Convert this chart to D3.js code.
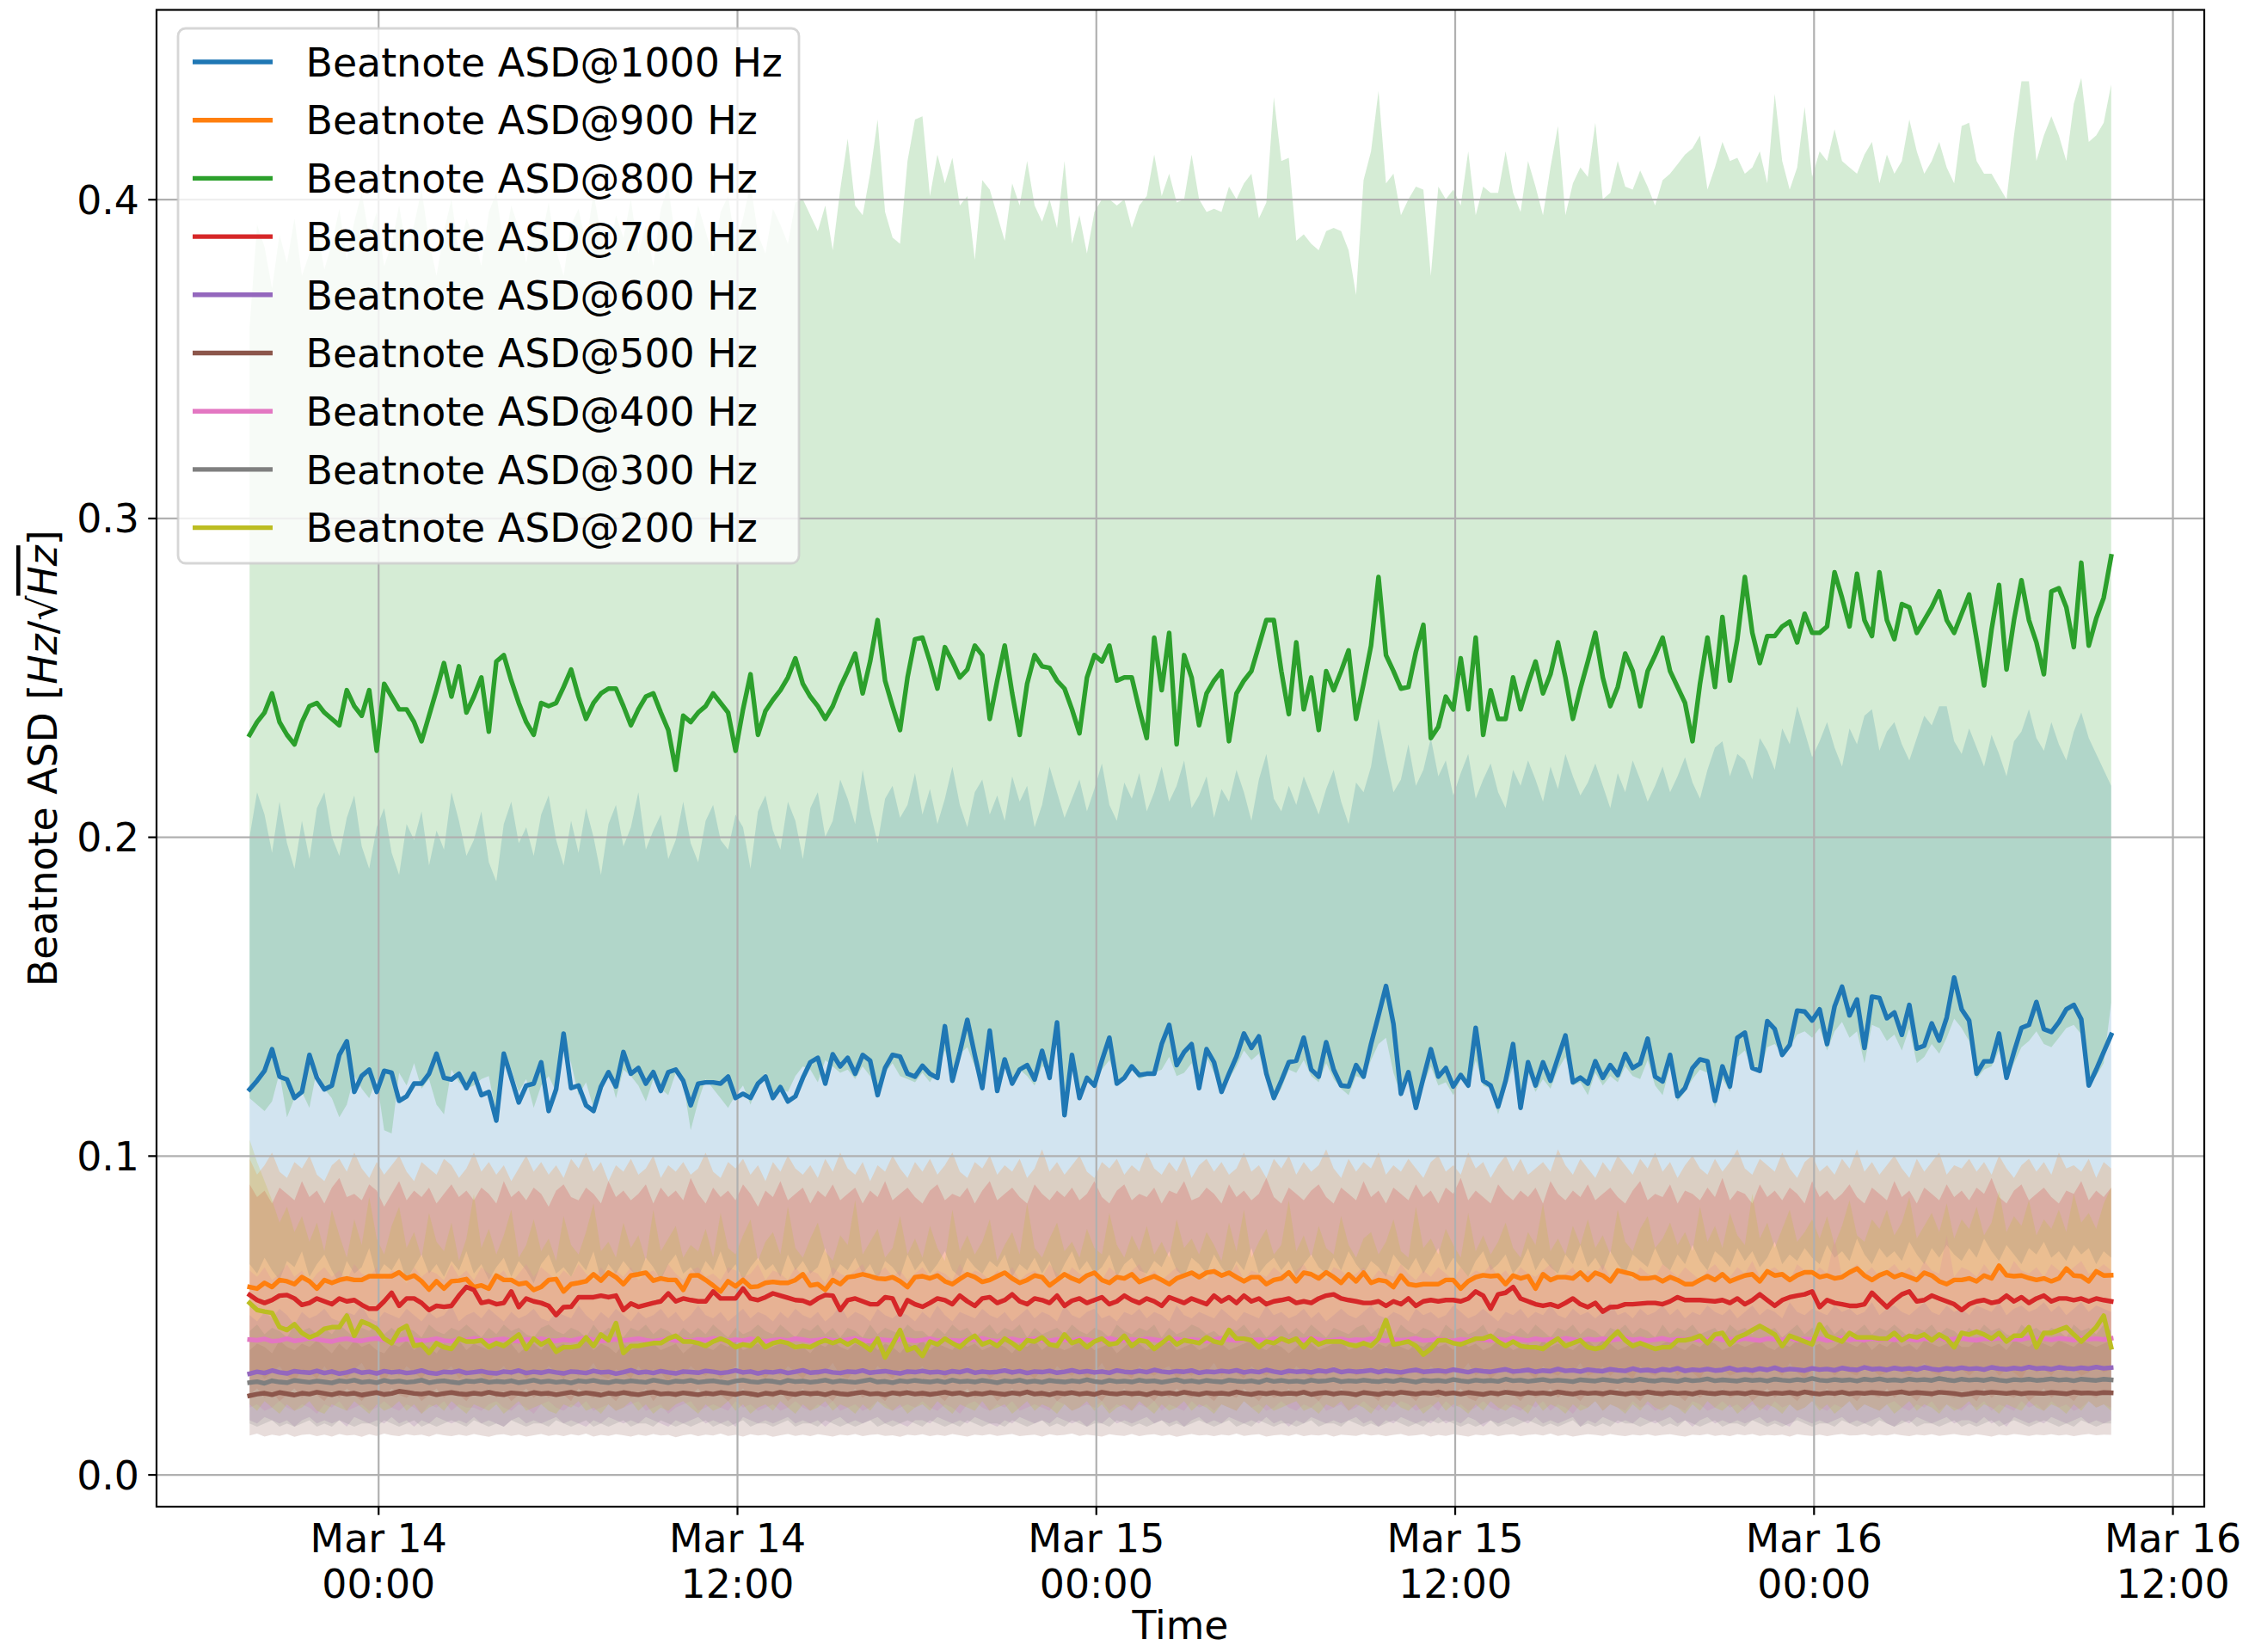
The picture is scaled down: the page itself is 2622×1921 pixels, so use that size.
<!DOCTYPE html>
<html><head><meta charset="utf-8">
<script src="https://cdn.jsdelivr.net/npm/d3@7"></script>
<style>body{margin:0;background:#fff}svg{display:block}</style>
</head><body><svg id="chart" width="2622" height="1921"></svg>
<script>
// ---------- DATA ----------
const START_UTC = Date.UTC(2021, 2, 13, 19, 42); // first sample, Mar 13 19:42
const STEP_MIN = 15;                              // sampling interval (minutes)

const seriesLabels = ["Beatnote ASD@1000 Hz","Beatnote ASD@900 Hz","Beatnote ASD@800 Hz","Beatnote ASD@700 Hz","Beatnote ASD@600 Hz","Beatnote ASD@500 Hz","Beatnote ASD@400 Hz","Beatnote ASD@300 Hz","Beatnote ASD@200 Hz"];
const seriesColors = ["#1f77b4","#ff7f0e","#2ca02c","#d62728","#9467bd","#8c564b","#e377c2","#7f7f7f","#bcbd22"];
const yTicks = [0, 0.1, 0.2, 0.3, 0.4];
const xTickTimes = [Date.UTC(2021,2,14,0),Date.UTC(2021,2,14,12),Date.UTC(2021,2,15,0),Date.UTC(2021,2,15,12),Date.UTC(2021,2,16,0),Date.UTC(2021,2,16,12)];
const xTickLabels = [["Mar 14","00:00"],["Mar 14","12:00"],["Mar 15","00:00"],["Mar 15","12:00"],["Mar 16","00:00"],["Mar 16","12:00"]];

// 1000 Hz
const asd1000 = [.1208,.1235,.1266,.1334,.1248,.1239,.1181,.120,.1316,.1244,
.1208,.122,.1316,.1359,.120,.125,.127,.120,.1266,.126,
.1172,.1186,.1226,.1226,.1257,.132,.1244,.1239,.1257,.1212,
.1257,.119,.120,.111,.132,.1244,.1167,.122,.1226,.1293,
.114,.1208,.1383,.1212,.122,.1158,.114,.1217,.1262,.1217,
.1325,.1257,.1275,.1226,.1262,.1203,.1262,.127,.1235,.1158,
.1226,.123,.123,.1226,.1248,.1181,.1194,.1181,.1226,.1248,
.1181,.1215,.117,.1186,.1244,.1293,.1307,.1226,.1318,.128,
.1307,.1257,.1316,.1298,.119,.1275,.1316,.1311,.1257,.1248,
.1282,.1257,.1244,.1406,.1235,.1325,.1426,.1316,.1212,.1392,
.1203,.1302,.1226,.127,.1284,.1239,.1329,.1244,.1418,.1127,
.1316,.1181,.1244,.122,.1298,.137,.1226,.1244,.128,.1253,
.1257,.1257,.135,.141,.1284,.1325,.135,.1212,.1334,.1293,
.120,.1257,.1311,.1383,.1338,.1374,.1257,.1181,.1235,.1293,
.1298,.137,.127,.1248,.1356,.127,.122,.1217,.1284,.1248,
.135,.144,.1532,.1413,.1194,.1262,.115,.1244,.1334,.1248,
.1275,.1217,.1253,.122,.1401,.1235,.122,.1154,.1235,.135,
.115,.1293,.122,.1293,.1235,.1307,.1377,.123,.1245,.1226,
.1296,.1244,.1284,.1253,.1319,.1275,.1289,.1367,.1248,.1233,
.1316,.1186,.1212,.1275,.1302,.1296,.1172,.128,.1217,.137,
.1386,.1275,.1266,.1422,.1397,.1316,.1347,.1455,.1452,.1424,
.1459,.135,.1468,.153,.144,.149,.1338,.1499,.1495,.1431,
.1449,.1379,.1473,.1336,.1345,.1415,.1361,.1433,.1559,.1459,
.1424,.1257,.1296,.1296,.1383,.1244,.1325,.1401,.141,.1482,
.1397,.1388,.1419,.1459,.1473,.1428,.122,.127,.1325,.1379];
const lo1000 = [.066,.063,.068,.064,.061,.067,.065,.070,.062,.066,
.069,.064,.060,.067,.063,.065,.071,.062,.066,.064,
.068,.061,.065,.069,.063,.066,.062,.067,.064,.070,
.063,.066,.061,.065,.068,.062,.067,.064,.060,.066,
.069,.063,.065,.062,.067,.064,.070,.061,.066,.063,
.067,.064,.062,.068,.065,.061,.066,.069,.063,.065,
.062,.067,.064,.070,.063,.066,.061,.065,.068,.064,
.066,.062,.069,.064,.067,.063,.065,.071,.062,.066,
.064,.068,.063,.066,.061,.067,.065,.062,.069,.064,
.067,.063,.066,.070,.064,.062,.068,.065,.063,.067,
.065,.069,.062,.066,.064,.068,.063,.067,.061,.066,
.070,.064,.067,.063,.065,.069,.062,.066,.068,.064,
.063,.067,.065,.070,.064,.062,.068,.066,.063,.069,
.065,.062,.067,.064,.071,.063,.066,.068,.064,.067,
.062,.066,.069,.065,.063,.068,.064,.070,.066,.063,
.067,.065,.062,.069,.066,.064,.068,.063,.067,.071,
.064,.068,.065,.062,.067,.070,.064,.066,.069,.063,
.066,.071,.064,.068,.065,.063,.069,.066,.072,.065,
.068,.064,.070,.066,.063,.069,.067,.065,.071,.066,
.064,.069,.066,.072,.067,.064,.070,.068,.065,.071,
.067,.070,.065,.068,.073,.066,.069,.067,.071,.068,
.066,.072,.068,.070,.067,.074,.069,.066,.071,.068,
.070,.067,.073,.069,.066,.071,.068,.072,.069,.067,
.071,.068,.074,.070,.067,.072,.069,.066,.071,.069,
.073,.068,.070,.067,.072,.069,.071,.066,.070,.068];
const hi1000 = [.200,.214,.207,.195,.211,.198,.190,.205,.193,.209,
.214,.200,.194,.206,.213,.197,.190,.203,.209,.195,
.188,.204,.199,.208,.191,.202,.196,.214,.205,.194,
.199,.208,.192,.186,.204,.211,.198,.203,.194,.207,
.213,.199,.191,.205,.195,.209,.200,.188,.204,.210,
.197,.203,.214,.196,.202,.207,.193,.199,.211,.198,
.192,.205,.210,.199,.196,.207,.203,.190,.208,.213,
.202,.196,.211,.205,.193,.209,.214,.200,.205,.218,
.212,.204,.221,.208,.198,.212,.216,.206,.210,.220,
.207,.215,.204,.212,.222,.210,.203,.214,.218,.207,
.213,.205,.219,.211,.216,.203,.210,.222,.214,.206,
.212,.218,.208,.215,.223,.210,.205,.217,.212,.220,
.208,.214,.222,.211,.216,.224,.209,.213,.219,.206,
.215,.211,.221,.214,.205,.218,.226,.212,.208,.216,
.210,.219,.213,.207,.215,.221,.211,.204,.217,.214,
.222,.237,.225,.214,.218,.229,.216,.221,.231,.219,
.224,.213,.220,.226,.212,.218,.223,.214,.209,.221,
.216,.224,.218,.211,.222,.215,.226,.219,.213,.217,
.223,.216,.209,.220,.214,.224,.218,.211,.216,.222,
.214,.219,.225,.217,.212,.221,.228,.230,.219,.226,
.224,.218,.231,.227,.221,.234,.229,.241,.233,.225,
.230,.236,.228,.222,.234,.229,.238,.240,.227,.233,
.236,.229,.224,.231,.238,.235,.241,.241,.230,.226,
.234,.228,.222,.232,.226,.219,.230,.233,.240,.231,
.227,.236,.229,.224,.233,.239,.231,.226,.221,.216];

// 900 Hz
const asd900 = [.0588,.0583,.0601,.0588,.0610,.0606,.0597,.0619,.0606,.0583,
.0610,.0601,.0610,.0615,.0610,.0610,.0622,.0622,.0622,.0622,
.0634,.0615,.0624,.0606,.0580,.0606,.0583,.0606,.0608,.0613,
.0588,.0593,.0583,.0624,.0610,.0610,.0597,.0601,.0579,.0588,
.0610,.0613,.0574,.0597,.0601,.0606,.0628,.0608,.0633,.0619,
.0597,.0624,.0628,.0633,.0608,.0615,.0610,.0610,.0579,.0624,
.0625,.0610,.0593,.0574,.0606,.0590,.0610,.0588,.0590,.0601,
.0604,.0601,.0601,.0610,.0628,.0593,.0597,.0579,.0610,.0597,
.0619,.0622,.0628,.0622,.0615,.0613,.0619,.0606,.0588,.0619,
.0622,
.0615,.0624,.0606,.0597,.0613,.0628,.0619,.0604,.0610,.0622,
.0633,.0615,.0601,.0610,.0624,.0619,.0593,.0610,.0628,.0615,
.0606,.0624,.0633,.0610,.0601,.0619,.0615,.0628,.0604,.0613,
.0622,.0610,.0597,.0615,.0624,.0633,.0619,
.0633,.0637,.0624,.0633,.0619,.0606,.0619,.0619,.0597,.0610,
.0615,.0634,.0606,.0633,.0628,.0615,.0634,.0619,.0601,.0628,
.0606,.0633,.0601,.0610,.0606,.0588,.0624,.0597,.0593,.0597,
.0597,.0597,.0610,.0610,.0583,.0606,.0619,.0625,.0622,.0624,
.0597,.0624,.0615,.0622,.0583,.0628,.0610,.0619,.0619,.0615,
.0633,.0610,.0633,.0624,.0606,.0640,.0634,.0628,.0615,.0615,
.0619,.0606,.0619,.0610,.0597,.0597,.0610,.0622,.0610,.0628,
.0606,.0615,.0624,.0628,.0606,.0637,.0624,.0628,.0610,.0625,
.0634,.0634,.0619,.0624,.0615,.0619,.0634,.0646,.0624,.0610,
.0625,.0634,.0619,.0628,.0619,.0610,.0633,.0624,.0606,.0597,
.0610,.0610,.0615,.0606,.0624,.0615,.0655,.0625,.0622,.0624,
.0616,.0610,.0615,.0606,.0615,.0646,.0624,.0622,.0606,.0637,
.0624,.0625];
const lo900 = [.031,.033,.030,.032,.034,.031,.029,.033,.032,.030,
.034,.031,.032,.030,.033,.035,.031,.032,.029,.033,
.031,.034,.032,.030,.033,.031,.032,.034,.030,.032,
.033,.031,.029,.032,.034,.031,.033,.030,.032,.031,
.034,.032,.030,.033,.031,.032,.035,.031,.030,.033,
.032,.030,.034,.031,.033,.032,.029,.033,.031,.034,
.032,.031,.033,.030,.032,.034,.031,.033,.032,.030,
.033,.031,.034,.032,.030,.033,.031,.032,.035,.031,
.030,.033,.032,.031,.034,.032,.030,.033,.031,.032,
.034,.031,.033,.030,.032,.031,.034,.032,.033,.030,
.032,.034,.031,.033,.032,.030,.033,.031,.034,.032,
.031,.033,.030,.032,.035,.031,.033,.032,.030,.034,
.032,.031,.033,.034,.030,.032,.031,.033,.032,.035,
.031,.033,.032,.030,.034,.032,.031,.033,.032,.031,
.034,.032,.030,.033,.031,.034,.032,.033,.031,.032,
.033,.031,.034,.032,.030,.033,.032,.031,.034,.032,
.031,.033,.032,.035,.031,.033,.030,.032,.034,.031,
.033,.032,.030,.034,.032,.031,.033,.032,.035,.031,
.032,.034,.031,.033,.032,.030,.034,.032,.031,.033,
.034,.031,.033,.032,.030,.034,.032,.033,.031,.032,
.033,.031,.034,.032,.033,.031,.035,.032,.030,.033,
.032,.034,.031,.033,.032,.031,.034,.033,.031,.032,
.034,.032,.031,.033,.035,.032,.031,.034,.032,.033,
.031,.033,.032,.034,.031,.033,.032,.030,.034,.032,
.033,.031,.034,.032,.033,.031,.032,.034,.032,.033];
const hi900 = [.099,.094,.097,.101,.095,.093,.098,.096,.100,.094,
.092,.097,.099,.095,.101,.096,.093,.098,.094,.097,
.100,.095,.092,.098,.096,.094,.099,.097,.093,.096,
.101,.095,.098,.094,.097,.092,.096,.100,.095,.098,
.094,.097,.093,.099,.096,.101,.095,.098,.092,.097,
.095,.099,.094,.096,.100,.093,.097,.095,.098,.094,
.096,.101,.095,.093,.098,.096,.099,.094,.097,.092,
.098,.095,.100,.096,.094,.097,.093,.099,.095,.101,
.096,.094,.098,.092,.097,.095,.100,.096,.093,.098,
.095,.099,.094,.097,.101,.095,.093,.098,.096,.100,
.094,.097,.095,.099,.093,.096,.102,.095,.098,.094,
.097,.100,.095,.093,.098,.096,.099,.094,.097,.095,
.101,.096,.094,.098,.095,.100,.093,.097,.099,.095,
.098,.094,.096,.101,.095,.097,.093,.099,.096,.100,
.094,.098,.095,.097,.102,.096,.093,.099,.095,.098,
.096,.101,.094,.097,.095,.099,.096,.093,.098,.100,
.095,.097,.094,.101,.096,.098,.093,.097,.100,.095,
.099,.094,.096,.098,.095,.102,.097,.094,.099,.096,
.093,.098,.095,.100,.097,.094,.099,.096,.101,.095,
.098,.093,.097,.100,.096,.094,.099,.095,.098,.102,
.096,.094,.099,.097,.095,.101,.096,.093,.098,.100,
.095,.097,.094,.099,.096,.102,.095,.098,.094,.097,
.100,.096,.093,.099,.095,.098,.101,.094,.097,.096,
.099,.095,.098,.094,.100,.096,.093,.097,.099,.095,
.098,.094,.101,.096,.097,.095,.099,.093,.098,.096];

// 800 Hz
const asd800 = [.232,.236,.239,.245,.236,.232,.229,.236,.241,.242,
.239,.237,.235,.246,.241,.238,.246,.227,.248,.244,
.240,.240,.236,.230,.238,.246,.2545,.244,.2535,.239,
.244,.250,.233,.255,.257,.249,.242,.236,.232,.242,
.241,.242,.247,.2525,.244,.237,.242,.245,.2465,.2465,
.241,.235,.240,.244,.245,.239,.2335,.221,.238,.236,
.239,.241,.245,.242,.239,.227,.240,.251,.232,.2395,
.243,.246,.250,.256,.248,.244,.241,.237,.241,.247,
.252,.2575,.245,.255,.268,.249,.241,.2335,.250,.262,
.2625,.255,.2465,.2595,.255,.250,.2525,.260,.257,.237,
.249,.260,.245,.232,.248,.257,.2535,.253,.249,.2465,
.240,.2325,.250,.257,.255,.260,.249,.250,.250,.240,
.231,.2625,.246,.264,.229,.257,.250,.235,.245,.249,
.252,.230,.245,.249,.252,.260,.268,.268,.252,.2385,
.261,.240,.250,.2335,.252,.246,.252,.2585,.237,.248,
.260,.2815,.257,.252,.2465,.247,.258,.2665,.231,.2345,
.244,.240,.256,.240,.2625,.232,.246,.237,.237,.250,
.240,.248,.255,.245,.251,.261,.250,.237,.2465,.255,
.264,.250,.241,.247,.2575,.252,.241,.252,.257,.2625,
.252,.247,.242,.230,.248,.2625,.247,.269,.249,.262,
.2815,.264,.2545,.263,.263,.266,.2675,.261,.270,.264,
.264,.266,.283,.275,.266,.2825,.268,.263,.283,.268,
.262,.273,.272,.264,.268,.272,.277,.268,.264,.270,
.276,.262,.2475,.265,.279,.2525,.268,.2805,.268,.261,
.251,.277,.278,.272,.2595,.286,.260,.2685,.275,.288];
const lo800 = [.118,.116,.114,.117,.126,.112,.118,.120,.115,.127,
.121,.118,.112,.116,.125,.121,.118,.124,.108,.107,
.126,.122,.129,.121,.124,.116,.113,.127,.123,.121,
.122,.124,.125,.113,.133,.127,.120,.124,.115,.122,
.125,.120,.137,.129,.119,.123,.115,.121,.127,.118,
.127,.125,.122,.117,.124,.121,.119,.126,.123,.108,
.117,.124,.121,.118,.115,.119,.122,.116,.123,.126,
.117,.121,.120,.125,.128,.127,.123,.130,.128,.126,
.127,.124,.128,.125,.119,.126,.129,.125,.124,.123,
.126,.123,.127,.133,.124,.132,.134,.128,.122,.133,
.121,.128,.124,.127,.125,.122,.128,.127,.136,.114,
.128,.120,.125,.122,.127,.130,.123,.125,.127,.124,
.125,.126,.127,.131,.125,.126,.129,.121,.131,.126,
.122,.124,.128,.133,.130,.132,.124,.117,.121,.127,
.126,.130,.125,.123,.129,.124,.121,.119,.125,.124,
.130,.135,.137,.126,.119,.125,.116,.122,.128,.122,
.123,.119,.124,.121,.130,.122,.121,.113,.121,.128,
.116,.126,.120,.124,.121,.127,.131,.122,.123,.119,
.126,.122,.125,.123,.128,.125,.124,.130,.122,.119,
.128,.117,.120,.124,.127,.126,.115,.124,.120,.131,
.133,.127,.126,.134,.135,.132,.134,.138,.139,.137,
.140,.133,.139,.142,.137,.139,.129,.141,.140,.136,
.138,.133,.140,.129,.131,.135,.132,.137,.143,.140,
.136,.124,.127,.128,.133,.124,.129,.134,.136,.139,
.135,.134,.137,.140,.141,.138,.122,.125,.129,.148];
const hi800 = [.360,.392,.385,.372,.389,.380,.394,.376,.383,.391,
.378,.386,.397,.381,.393,.402,.388,.396,.379,.386,
.398,.384,.392,.403,.387,.376,.390,.400,.383,.394,
.388,.379,.396,.402,.385,.398,.391,.380,.393,.387,
.399,.384,.376,.392,.397,.386,.402,.389,.381,.395,
.388,.400,.383,.392,.379,.397,.404,.387,.393,.385,
.398,.390,.382,.396,.401,.386,.394,.405,.389,.383,
.397,.392,.386,.399,.400,.395,.390,.398,.384,.403,
.419,.398,.395,.408,.425,.396,.388,.386,.412,.425,
.426,.401,.414,.405,.413,.398,.401,.381,.406,.403,
.395,.387,.405,.398,.412,.398,.393,.400,.391,.412,
.386,.395,.383,.396,.400,.400,.398,.400,.391,.398,
.401,.414,.401,.408,.399,.400,.414,.400,.396,.397,
.396,.404,.400,.405,.408,.394,.399,.432,.412,.413,
.387,.389,.386,.384,.390,.391,.390,.384,.370,.406,
.415,.434,.405,.408,.395,.400,.404,.403,.376,.404,
.400,.403,.398,.415,.395,.404,.402,.402,.415,.402,
.396,.412,.404,.395,.410,.423,.395,.405,.410,.407,
.424,.400,.402,.412,.404,.403,.409,.404,.398,.406,
.408,.411,.414,.416,.420,.403,.410,.418,.412,.413,
.408,.410,.415,.405,.433,.412,.403,.410,.429,.407,
.415,.412,.422,.412,.410,.408,.414,.418,.405,.414,
.408,.412,.425,.415,.408,.412,.418,.410,.405,.423,
.424,.412,.408,.408,.404,.400,.420,.437,.437,.412,
.420,.426,.420,.412,.430,.438,.418,.420,.424,.436];

// 700 Hz
const asd700 = [.0563,.0547,.0538,.0547,.0561,.0563,.0552,.0532,.0538,.0552,
.0543,.0534,.0552,.0543,.0547,.0532,.0520,.0520,.0543,.0570,
.0529,.0552,.0552,.0538,.0516,.0529,.0526,.0529,.0561,.0588,
.0579,.0538,.0543,.0534,.0538,.0574,.0525,.0552,.0543,.0538,
.0529,.0500,.0525,.0526,.0556,.0556,.0556,.0561,.0556,.0561,
.0516,.0536,.0526,.0532,.0538,.0543,.0568,.0543,.0552,.0547,
.0543,.0543,.0574,.0552,.0552,.0552,.0583,.0552,.0547,.0556,
.0568,.0561,.0554,.0547,.0545,.0536,.0552,.0563,.0561,.0516,
.0547,.0552,.0543,.0534,.0534,.0556,.0552,.0502,.0547,.0534,
.0526,
.0538,.0552,.0547,.0534,.0561,.0543,.0529,.0552,.0556,.0538,
.0547,.0565,.0543,.0534,.0552,.0547,.0538,.0561,.0529,.0545,
.0552,.0538,.0547,.0556,.0534,.0543,.0561,.0547,.0538,.0552,
.0543,.0529,.0556,.0547,.0538,.0552,.0543,
.0534,.0561,.0543,.0556,.0538,.0561,.0543,.0552,.0534,.0543,
.0547,.0552,.0538,.0543,.0538,.0552,.0561,.0565,.0552,.0547,
.0543,.0538,.0538,.0543,.0529,.0543,.0534,.0552,.0529,.0543,
.0547,.0543,.0547,.0547,.0543,.0552,.0574,.0561,.0520,.0565,
.0570,.0588,.0552,.0543,.0534,.0529,.0534,.0526,.0538,.0552,
.0534,.0525,.0538,.0511,.0525,.0526,.0534,.0534,.0536,.0538,
.0538,.0534,.0543,.0556,.0547,.0547,.0547,.0545,.0543,.0547,
.0538,.0552,.0534,.0547,.0565,.0547,.0529,.0547,.0556,.0561,
.0565,.0574,.0525,.0547,.0538,.0534,.0529,.0529,.0534,.0570,
.0547,.0525,.0547,.0565,.0574,.0543,.0547,.0561,.0552,.0543,
.0534,.0516,.0534,.0543,.0547,.0538,.0543,.0561,.0543,.0556,
.0538,.0552,.0561,.0543,.0552,.0552,.0547,.0552,.0543,.0552,
.0547,.0543];
const lo700 = [.025,.027,.024,.026,.023,.025,.027,.024,.026,.025,
.023,.026,.024,.027,.025,.023,.026,.025,.024,.027,
.025,.024,.026,.023,.025,.027,.024,.026,.025,.023,
.026,.025,.027,.024,.026,.023,.025,.027,.024,.026,
.024,.026,.025,.023,.027,.025,.024,.026,.025,.023,
.026,.024,.025,.027,.023,.026,.025,.024,.026,.025,
.027,.024,.026,.025,.023,.025,.027,.024,.026,.025,
.024,.026,.023,.025,.027,.024,.026,.025,.023,.026,
.025,.027,.024,.026,.025,.023,.026,.024,.027,.025,
.024,.026,.025,.023,.026,.025,.027,.024,.025,.026,
.023,.025,.027,.024,.026,.025,.024,.026,.023,.025,
.027,.024,.026,.025,.023,.026,.025,.027,.024,.026,
.025,.023,.026,.024,.027,.025,.024,.026,.025,.023,
.026,.025,.024,.027,.025,.023,.026,.024,.025,.027,
.024,.026,.025,.023,.026,.024,.027,.025,.024,.026,
.025,.023,.027,.024,.026,.025,.023,.026,.025,.024,
.026,.025,.027,.024,.023,.026,.025,.024,.027,.025,
.023,.026,.024,.025,.027,.024,.026,.025,.023,.026,
.025,.024,.026,.027,.024,.025,.023,.026,.025,.024,
.027,.025,.023,.026,.024,.026,.025,.027,.024,.025,
.026,.023,.025,.027,.024,.026,.025,.023,.026,.024,
.025,.027,.024,.026,.025,.023,.026,.025,.024,.027,
.024,.026,.025,.023,.026,.024,.027,.025,.024,.026,
.025,.023,.027,.024,.026,.025,.024,.026,.023,.025,
.027,.024,.026,.025,.023,.026,.025,.024,.026,.025];
const hi700 = [.091,.087,.089,.085,.090,.088,.086,.092,.087,.089,
.085,.090,.093,.087,.088,.086,.091,.089,.084,.088,
.092,.086,.089,.087,.090,.085,.088,.091,.087,.089,
.086,.090,.088,.085,.092,.087,.089,.086,.090,.088,
.084,.089,.091,.087,.086,.090,.088,.085,.092,.087,
.089,.086,.088,.091,.085,.090,.087,.089,.086,.093,
.088,.085,.090,.087,.089,.086,.091,.088,.084,.089,
.087,.092,.086,.088,.090,.085,.089,.087,.091,.086,
.088,.090,.085,.089,.087,.092,.086,.088,.090,.087,
.085,.089,.091,.086,.088,.087,.090,.085,.089,.092,
.086,.088,.090,.087,.085,.091,.088,.086,.089,.087,
.090,.086,.088,.092,.087,.085,.089,.091,.086,.088,
.087,.090,.085,.089,.088,.092,.086,.087,.090,.088,
.085,.091,.087,.089,.086,.088,.093,.087,.085,.090,
.088,.086,.089,.091,.087,.085,.090,.088,.086,.092,
.087,.089,.085,.090,.088,.086,.091,.087,.089,.085,
.090,.088,.093,.086,.089,.087,.085,.091,.088,.086,
.089,.087,.090,.085,.092,.088,.086,.089,.087,.091,
.086,.088,.090,.087,.085,.089,.092,.086,.088,.087,
.091,.085,.089,.088,.086,.090,.087,.093,.086,.089,
.088,.085,.091,.087,.089,.086,.090,.088,.085,.092,
.087,.089,.086,.088,.091,.087,.085,.090,.088,.086,
.092,.087,.089,.085,.090,.088,.086,.091,.087,.089,
.086,.090,.088,.093,.087,.085,.089,.091,.086,.088,
.090,.087,.085,.089,.088,.092,.086,.089,.087,.090];

// 600 Hz
const asd600 = [.0316,.0322,.0318,.0326,.0320,.0317,.0324,.0321,.0319,.0325,
.0318,.0323,.0316,.0320,.0327,.0319,.0322,.0317,.0324,.0320,
.0323,.0318,.0321,.0326,.0319,.0316,.0322,.0320,.0325,.0318,
.0321,.0324,.0319,.0317,.0323,.0320,.0326,.0318,.0322,.0319,
.0324,.0320,.0317,.0323,.0321,.0318,.0325,.0320,.0322,.0316,
.0321,.0327,.0319,.0322,.0318,.0324,.0320,.0317,.0323,.0321,
.0319,.0325,.0322,.0318,.0321,.0326,.0320,.0323,.0317,.0322,
.0320,.0324,.0318,.0322,.0327,.0319,.0321,.0325,.0320,.0318,
.0323,.0321,.0326,.0319,.0322,.0324,.0320,.0317,.0323,.0321,
.0325,.0320,.0322,.0318,.0324,.0321,.0327,.0319,.0323,.0320,
.0322,.0326,.0320,.0324,.0318,.0323,.0321,.0325,.0319,.0322,
.0327,.0321,.0324,.0320,.0323,.0319,.0326,.0322,.0320,.0325,
.0321,.0328,.0323,.0320,.0324,.0322,.0326,.0319,.0323,.0321,
.0325,.0322,.0327,.0320,.0324,.0321,.0328,.0323,.0319,.0325,
.0322,.0324,.0320,.0326,.0323,.0329,.0321,.0325,.0322,.0324,
.0327,.0321,.0326,.0323,.0320,.0325,.0328,.0322,.0324,.0326,
.0323,.0329,.0325,.0321,.0327,.0324,.0322,.0326,.0330,.0323,
.0325,.0328,.0322,.0326,.0324,.0331,.0325,.0327,.0323,.0329,
.0326,.0324,.0330,.0327,.0325,.0332,.0326,.0328,.0324,.0330,
.0327,.0333,.0325,.0329,.0327,.0331,.0326,.0328,.0334,.0327,
.0330,.0326,.0332,.0328,.0335,.0327,.0331,.0329,.0326,.0333,
.0329,.0331,.0327,.0334,.0330,.0328,.0336,.0330,.0332,.0328,
.0334,.0330,.0333,.0329,.0336,.0331,.0328,.0333,.0330,.0335,
.0331,.0333,.0329,.0336,.0332,.0330,.0334,.0331,.0337,.0332,
.0334,.0330,.0336,.0333,.0331,.0335,.0332,.0337,.0333,.0335];
const lo600 = [.017,.016,.018,.017,.016,.017,.015,.017,.018,.016,
.017,.016,.017,.015,.018,.017,.016,.017,.016,.018,
.016,.017,.015,.017,.016,.018,.017,.016,.017,.016,
.018,.016,.017,.016,.015,.017,.018,.016,.017,.016,
.017,.018,.016,.017,.016,.015,.017,.016,.018,.017,
.016,.017,.016,.018,.017,.016,.015,.017,.016,.017,
.018,.016,.017,.016,.017,.015,.018,.017,.016,.017,
.016,.017,.018,.016,.017,.016,.017,.015,.017,.018,
.016,.017,.016,.017,.018,.016,.017,.016,.015,.017,
.017,.016,.018,.017,.016,.017,.016,.018,.017,.016,
.015,.017,.016,.018,.017,.016,.017,.016,.018,.017,
.016,.017,.015,.017,.016,.018,.016,.017,.016,.017,
.018,.016,.017,.016,.017,.015,.017,.018,.016,.017,
.016,.018,.017,.016,.017,.016,.018,.016,.017,.015,
.017,.016,.018,.017,.016,.017,.016,.017,.018,.016,
.017,.015,.017,.016,.018,.017,.016,.017,.016,.018,
.016,.017,.016,.018,.017,.015,.017,.016,.017,.018,
.017,.016,.018,.016,.017,.016,.017,.018,.015,.017,
.016,.018,.017,.016,.017,.016,.018,.017,.016,.017,
.018,.016,.017,.015,.017,.018,.016,.017,.016,.017,
.016,.017,.018,.016,.017,.016,.015,.018,.017,.016,
.017,.016,.017,.018,.016,.017,.016,.017,.018,.016,
.015,.017,.016,.018,.017,.016,.017,.018,.016,.017,
.017,.016,.018,.016,.017,.015,.018,.017,.016,.017,
.016,.018,.017,.016,.017,.018,.016,.017,.016,.017];
const hi600 = [.050,.048,.051,.049,.052,.050,.047,.051,.049,.050,
.052,.049,.048,.051,.050,.053,.049,.048,.051,.050,
.049,.052,.050,.048,.051,.049,.050,.053,.048,.050,
.051,.049,.052,.050,.048,.051,.049,.050,.052,.049,
.048,.051,.050,.049,.053,.050,.048,.051,.049,.052,
.050,.048,.051,.049,.050,.052,.049,.051,.048,.050,
.053,.050,.049,.051,.048,.050,.052,.049,.051,.050,
.048,.051,.049,.052,.050,.049,.051,.048,.050,.053,
.049,.051,.050,.048,.052,.050,.049,.051,.050,.048,
.051,.049,.053,.050,.048,.051,.050,.049,.052,.050,
.049,.051,.048,.050,.052,.049,.051,.050,.048,.053,
.050,.049,.051,.052,.049,.050,.048,.051,.050,.052,
.049,.051,.050,.048,.053,.050,.049,.051,.050,.049,
.052,.050,.048,.051,.050,.049,.053,.050,.051,.049,
.050,.052,.049,.051,.048,.050,.052,.050,.049,.051,
.053,.050,.049,.051,.050,.048,.052,.050,.051,.049,
.050,.053,.051,.049,.050,.052,.050,.048,.051,.050,
.052,.049,.051,.050,.053,.050,.049,.052,.050,.051,
.049,.051,.054,.050,.051,.049,.052,.050,.051,.053,
.050,.052,.049,.051,.050,.053,.051,.050,.052,.049,
.051,.053,.050,.052,.051,.049,.054,.051,.050,.052,
.051,.050,.053,.051,.052,.050,.051,.054,.050,.052,
.053,.051,.050,.052,.054,.051,.050,.053,.051,.052,
.050,.053,.052,.051,.054,.050,.052,.053,.051,.052,
.054,.051,.053,.050,.052,.054,.051,.053,.052,.051];

// 500 Hz
const asd500 = [.0247,.0252,.0255,.0250,.0257,.0253,.0249,.0255,.0252,.0258,
.0254,.0250,.0256,.0252,.0255,.0249,.0253,.0257,.0251,.0254,
.0261,.0258,.0254,.0252,.0256,.0250,.0254,.0257,.0253,.0251,
.0255,.0252,.0258,.0253,.0250,.0256,.0254,.0251,.0257,.0253,
.0255,.0250,.0254,.0258,.0252,.0256,.0253,.0249,.0255,.0252,
.0257,.0253,.0250,.0255,.0258,.0252,.0254,.0251,.0256,.0253,
.0250,.0255,.0252,.0257,.0254,.0251,.0256,.0253,.0249,.0255,
.0252,.0258,.0254,.0251,.0256,.0253,.0255,.0250,.0257,.0253,
.0251,.0255,.0258,.0252,.0254,.0250,.0256,.0253,.0257,.0252,
.0255,.0251,.0254,.0258,.0253,.0256,.0250,.0255,.0252,.0257,
.0254,.0251,.0256,.0253,.0259,.0252,.0255,.0250,.0256,.0253,
.0257,.0252,.0255,.0251,.0258,.0254,.0252,.0256,.0253,.0255,
.0250,.0257,.0253,.0256,.0252,.0258,.0254,.0251,.0256,.0253,
.0255,.0252,.0259,.0254,.0251,.0256,.0253,.0257,.0252,.0255,
.0253,.0258,.0251,.0255,.0257,.0252,.0256,.0254,.0250,.0257,
.0254,.0251,.0256,.0253,.0258,.0255,.0252,.0256,.0254,.0259,
.0253,.0256,.0252,.0257,.0254,.0251,.0256,.0253,.0258,.0255,
.0252,.0257,.0254,.0256,.0253,.0259,.0255,.0252,.0257,.0254,
.0256,.0253,.0258,.0255,.0252,.0256,.0254,.0259,.0255,.0253,
.0257,.0254,.0256,.0252,.0258,.0255,.0253,.0257,.0254,.0256,
.0253,.0258,.0255,.0252,.0256,.0254,.0257,.0253,.0259,.0255,
.0252,.0256,.0254,.0258,.0253,.0256,.0254,.0257,.0255,.0253,
.0256,.0259,.0254,.0257,.0255,.0253,.0258,.0256,.0254,.0250,
.0253,.0257,.0255,.0258,.0256,.0254,.0257,.0253,.0256,.0255,
.0254,.0257,.0255,.0253,.0258,.0255,.0256,.0254,.0257,.0256];
const lo500 = [.0122,.0128,.0119,.0125,.0121,.0127,.0118,.0124,.0126,.0120,
.0125,.0119,.0127,.0122,.0124,.0118,.0126,.0121,.0128,.0123,
.0120,.0126,.0122,.0125,.0119,.0127,.0123,.0120,.0125,.0121,
.0127,.0122,.0118,.0124,.0126,.0121,.0125,.0119,.0123,.0127,
.0121,.0125,.0120,.0126,.0122,.0128,.0119,.0124,.0121,.0126,
.0123,.0119,.0125,.0121,.0127,.0122,.0124,.0117,.0123,.0126,
.0120,.0125,.0122,.0128,.0121,.0124,.0119,.0126,.0122,.0125,
.0118,.0123,.0127,.0121,.0125,.0120,.0126,.0123,.0119,.0125,
.0122,.0127,.0120,.0124,.0126,.0121,.0123,.0118,.0125,.0122,
.0126,.0120,.0124,.0121,.0127,.0123,.0119,.0125,.0122,.0126,
.0121,.0124,.0127,.0120,.0123,.0125,.0119,.0126,.0122,.0124,
.0128,.0121,.0125,.0122,.0119,.0126,.0123,.0121,.0127,.0120,
.0124,.0126,.0121,.0125,.0118,.0123,.0127,.0122,.0124,.0120,
.0125,.0122,.0128,.0121,.0124,.0126,.0119,.0123,.0125,.0121,
.0127,.0120,.0124,.0122,.0126,.0119,.0125,.0123,.0121,.0127,
.0122,.0125,.0120,.0124,.0127,.0121,.0123,.0126,.0119,.0124,
.0121,.0126,.0123,.0119,.0125,.0122,.0127,.0120,.0124,.0126,
.0120,.0124,.0126,.0122,.0128,.0121,.0125,.0119,.0123,.0126,
.0124,.0121,.0127,.0123,.0120,.0125,.0122,.0126,.0121,.0124,
.0126,.0122,.0119,.0125,.0123,.0127,.0121,.0124,.0120,.0126,
.0123,.0127,.0121,.0124,.0122,.0125,.0119,.0126,.0123,.0121,
.0125,.0120,.0124,.0127,.0122,.0123,.0126,.0121,.0125,.0122,
.0127,.0123,.0120,.0125,.0122,.0126,.0121,.0124,.0127,.0123,
.0121,.0126,.0123,.0119,.0125,.0122,.0127,.0124,.0121,.0125,
.0123,.0126,.0122,.0125,.0120,.0124,.0127,.0123,.0125,.0124];
const hi500 = [.039,.041,.040,.038,.042,.040,.039,.041,.040,.042,
.040,.038,.041,.039,.042,.040,.041,.039,.038,.041,
.040,.042,.039,.041,.040,.038,.041,.040,.042,.039,
.041,.040,.039,.042,.040,.041,.038,.040,.041,.039,
.042,.040,.041,.039,.040,.042,.039,.041,.040,.038,
.041,.039,.040,.042,.041,.039,.040,.041,.038,.040,
.042,.040,.039,.041,.040,.042,.039,.040,.041,.039,
.040,.041,.042,.039,.040,.038,.041,.040,.042,.040,
.039,.041,.040,.042,.039,.041,.040,.038,.041,.040,
.042,.039,.041,.040,.039,.042,.040,.041,.039,.040,
.041,.040,.038,.041,.040,.042,.039,.041,.040,.039,
.040,.042,.041,.039,.040,.041,.038,.040,.042,.041,
.039,.040,.041,.042,.039,.040,.041,.039,.040,.042,
.041,.039,.040,.041,.042,.040,.039,.041,.040,.038,
.040,.042,.041,.039,.040,.041,.042,.039,.040,.041,
.039,.041,.040,.042,.040,.039,.041,.040,.042,.040,
.041,.039,.042,.040,.041,.039,.040,.042,.041,.039,
.040,.041,.039,.042,.040,.041,.040,.039,.041,.042,
.040,.042,.041,.039,.040,.041,.042,.040,.039,.041,
.042,.040,.039,.041,.040,.042,.041,.039,.040,.041,
.040,.041,.042,.040,.039,.041,.040,.042,.041,.040,
.041,.039,.040,.042,.041,.040,.042,.039,.041,.040,
.042,.040,.041,.039,.042,.041,.040,.041,.042,.040,
.040,.042,.041,.040,.041,.039,.042,.041,.040,.042,
.041,.040,.042,.041,.040,.042,.041,.040,.041,.042];

// 400 Hz
const asd400 = [.0423,.0421,.0425,.0418,.0420,.0426,.0419,.0422,.0428,.0424,
.0420,.0417,.0423,.0426,.0421,.0419,.0424,.0427,.0422,.0418,
.0421,.0425,.0423,.0419,.0422,.0426,.0420,.0418,.0424,.0421,
.0427,.0422,.0419,.0423,.0425,.0420,.0418,.0424,.0422,.0426,
.0421,.0419,.0423,.0420,.0425,.0428,.0422,.0419,.0421,.0424,
.0420,.0423,.0426,.0421,.0418,.0422,.0425,.0420,.0423,.0419,
.0424,.0421,.0427,.0422,.0419,.0423,.0420,.0425,.0422,.0418,
.0421,.0424,.0420,.0426,.0423,.0419,.0422,.0425,.0421,.0420,
.0423,.0427,.0421,.0418,.0424,.0422,.0420,.0425,.0423,.0419,
.0422,.0426,.0420,.0423,.0421,.0419,.0424,.0422,.0427,.0421,
.0418,.0423,.0425,.0420,.0422,.0426,.0421,.0419,.0424,.0422,
.0420,.0425,.0423,.0419,.0421,.0427,.0422,.0420,.0424,.0421,
.0426,.0423,.0419,.0422,.0425,.0420,.0424,.0421,.0418,.0423,
.0427,.0422,.0420,.0425,.0421,.0423,.0419,.0426,.0422,.0420,
.0424,.0421,.0428,.0423,.0419,.0422,.0425,.0420,.0423,.0421,
.0426,.0422,.0419,.0424,.0421,.0423,.0427,.0420,.0422,.0425,
.0421,.0419,.0424,.0422,.0426,.0423,.0420,.0425,.0421,.0428,
.0423,.0420,.0426,.0422,.0424,.0421,.0427,.0423,.0419,.0425,
.0422,.0426,.0421,.0424,.0428,.0422,.0425,.0420,.0423,.0427,
.0421,.0425,.0423,.0426,.0420,.0424,.0429,.0422,.0425,.0421,
.0427,.0423,.0420,.0426,.0424,.0422,.0428,.0421,.0425,.0423,
.0426,.0420,.0424,.0429,.0422,.0425,.0421,.0427,.0423,.0426,
.0422,.0428,.0424,.0421,.0426,.0423,.0430,.0422,.0425,.0427,
.0423,.0421,.0426,.0424,.0428,.0422,.0425,.0423,.0429,.0424,
.0426,.0422,.0427,.0425,.0421,.0428,.0424,.0426,.0423,.0427];
const lo400 = [.021,.022,.020,.021,.023,.021,.020,.022,.021,.019,
.022,.021,.023,.020,.021,.022,.020,.021,.023,.021,
.020,.022,.021,.019,.022,.021,.023,.020,.022,.021,
.021,.020,.022,.023,.021,.020,.022,.021,.019,.022,
.023,.021,.020,.022,.021,.023,.020,.021,.022,.020,
.021,.022,.023,.020,.021,.022,.019,.021,.022,.023,
.020,.021,.022,.021,.020,.023,.021,.022,.020,.021,
.022,.020,.021,.023,.021,.020,.022,.021,.023,.020,
.021,.022,.020,.021,.023,.022,.020,.021,.022,.021,
.023,.021,.020,.022,.021,.019,.022,.023,.021,.020,
.022,.021,.023,.020,.021,.022,.021,.020,.023,.022,
.020,.021,.022,.021,.023,.020,.022,.021,.020,.022,
.021,.023,.020,.022,.021,.020,.023,.021,.022,.020,
.022,.021,.020,.023,.021,.022,.020,.021,.023,.021,
.020,.022,.021,.023,.020,.021,.022,.020,.021,.023,
.021,.020,.022,.021,.023,.022,.020,.021,.022,.020,
.023,.021,.022,.020,.021,.023,.021,.020,.022,.021,
.020,.022,.021,.023,.020,.022,.021,.019,.022,.021,
.023,.020,.022,.021,.020,.023,.021,.022,.020,.021,
.022,.021,.020,.023,.022,.020,.021,.023,.021,.022,
.020,.022,.021,.020,.023,.021,.022,.020,.021,.023,
.021,.020,.022,.021,.023,.020,.022,.021,.020,.022,
.023,.021,.020,.022,.021,.023,.020,.022,.021,.020,
.022,.021,.023,.020,.022,.021,.020,.023,.021,.022,
.020,.023,.021,.022,.020,.021,.023,.021,.022,.021];
const hi400 = [.064,.062,.065,.061,.063,.066,.062,.064,.060,.063,
.065,.062,.064,.061,.066,.063,.062,.065,.061,.064,
.063,.060,.065,.062,.064,.063,.061,.066,.062,.064,
.061,.065,.063,.062,.064,.060,.063,.066,.062,.065,
.063,.061,.064,.062,.066,.063,.061,.065,.062,.064,
.062,.065,.061,.063,.064,.062,.066,.063,.061,.064,
.065,.062,.063,.061,.065,.064,.062,.063,.066,.061,
.064,.063,.061,.065,.062,.064,.063,.060,.065,.063,
.062,.064,.066,.061,.063,.065,.062,.064,.061,.063,
.065,.062,.064,.063,.061,.066,.062,.064,.063,.061,
.064,.062,.065,.061,.063,.064,.062,.066,.063,.061,
.065,.063,.062,.064,.061,.065,.063,.062,.064,.066,
.062,.064,.061,.063,.065,.062,.064,.063,.061,.065,
.063,.062,.066,.061,.064,.063,.062,.065,.063,.061,
.064,.066,.062,.063,.061,.065,.064,.062,.063,.065,
.061,.064,.063,.062,.066,.063,.061,.064,.062,.065,
.063,.061,.065,.062,.064,.063,.066,.062,.064,.061,
.065,.063,.062,.064,.066,.062,.063,.065,.061,.064,
.063,.066,.062,.064,.063,.061,.065,.063,.062,.066,
.064,.062,.065,.063,.061,.064,.066,.063,.062,.065,
.063,.067,.062,.064,.065,.063,.061,.066,.064,.062,
.065,.063,.074,.062,.064,.066,.063,.065,.062,.064,
.066,.063,.065,.062,.067,.064,.063,.075,.062,.065,
.064,.062,.066,.063,.065,.062,.067,.064,.063,.065,
.062,.066,.064,.063,.065,.067,.063,.064,.066,.064];

// 300 Hz
const asd300 = [.0288,.0291,.0286,.0294,.0290,.0288,.0295,.0292,.0289,.0293,
.0290,.0287,.0294,.0291,.0296,.0289,.0292,.0288,.0295,.0290,
.0293,.0289,.0291,.0296,.0288,.0292,.0294,.0290,.0287,.0293,
.0291,.0295,.0289,.0292,.0290,.0294,.0288,.0291,.0296,.0290,
.0293,.0289,.0292,.0287,.0294,.0291,.0295,.0290,.0288,.0293,
.0290,.0294,.0291,.0289,.0296,.0292,.0288,.0293,.0291,.0295,
.0289,.0292,.0294,.0290,.0287,.0293,.0296,.0291,.0289,.0294,
.0292,.0288,.0295,.0291,.0293,.0289,.0292,.0296,.0290,.0294,
.0291,.0289,.0293,.0297,.0290,.0292,.0288,.0294,.0291,.0295,
.0292,.0290,.0294,.0289,.0296,.0291,.0293,.0290,.0295,.0292,
.0288,.0294,.0291,.0296,.0290,.0293,.0289,.0295,.0292,.0290,
.0294,.0291,.0297,.0292,.0289,.0295,.0291,.0293,.0290,.0296,
.0292,.0294,.0289,.0293,.0297,.0291,.0294,.0290,.0295,.0292,
.0290,.0296,.0293,.0291,.0294,.0289,.0297,.0292,.0295,.0291,
.0293,.0290,.0296,.0292,.0294,.0298,.0291,.0294,.0292,.0296,
.0293,.0291,.0295,.0292,.0297,.0294,.0290,.0296,.0293,.0295,
.0292,.0298,.0294,.0291,.0296,.0293,.0295,.0292,.0299,.0294,
.0296,.0292,.0295,.0298,.0293,.0296,.0294,.0291,.0297,.0295,
.0293,.0298,.0295,.0292,.0297,.0294,.0299,.0295,.0293,.0297,
.0295,.0292,.0298,.0294,.0296,.0300,.0294,.0297,.0295,.0293,
.0298,.0295,.0297,.0293,.0299,.0296,.0294,.0298,.0295,.0301,
.0296,.0294,.0298,.0295,.0297,.0293,.0299,.0296,.0300,.0295,
.0297,.0294,.0299,.0296,.0298,.0295,.0301,.0297,.0294,.0299,
.0296,.0298,.0295,.0300,.0296,.0293,.0298,.0296,.0299,.0295,
.0297,.0300,.0296,.0298,.0294,.0299,.0297,.0295,.0299,.0297];
const lo300 = [.016,.015,.016,.017,.015,.016,.015,.016,.017,.015,
.016,.015,.017,.016,.015,.016,.016,.015,.017,.016,
.015,.016,.017,.015,.016,.015,.016,.017,.016,.015,
.017,.016,.015,.016,.015,.017,.016,.015,.016,.016,
.015,.017,.016,.015,.016,.017,.015,.016,.015,.016,
.017,.015,.016,.016,.015,.017,.016,.015,.016,.015,
.016,.017,.015,.016,.015,.016,.017,.015,.016,.016,
.015,.016,.017,.015,.016,.016,.015,.017,.016,.015,
.016,.015,.016,.017,.015,.016,.015,.016,.017,.016,
.015,.017,.016,.015,.016,.015,.017,.016,.015,.016,
.016,.015,.017,.016,.015,.016,.017,.015,.016,.015,
.017,.016,.015,.016,.016,.015,.017,.016,.015,.016,
.015,.016,.017,.015,.016,.015,.016,.017,.016,.015,
.016,.017,.015,.016,.015,.017,.016,.015,.016,.016,
.015,.016,.017,.015,.016,.016,.015,.017,.016,.015,
.016,.015,.016,.017,.016,.015,.016,.015,.017,.016,
.017,.016,.015,.016,.015,.016,.017,.015,.016,.015,
.016,.017,.016,.015,.016,.015,.016,.017,.015,.016,
.015,.016,.015,.017,.016,.016,.015,.016,.017,.015,
.016,.015,.017,.016,.015,.016,.017,.015,.016,.016,
.015,.017,.016,.015,.016,.015,.016,.017,.016,.015,
.016,.016,.015,.017,.016,.015,.016,.015,.017,.016,
.015,.016,.017,.015,.016,.016,.015,.016,.017,.015,
.016,.015,.016,.017,.015,.016,.017,.016,.015,.016,
.017,.016,.015,.016,.015,.017,.016,.015,.016,.016];
const hi300 = [.045,.047,.044,.046,.045,.043,.047,.045,.046,.044,
.046,.044,.047,.045,.043,.046,.045,.047,.044,.046,
.044,.046,.045,.043,.047,.045,.044,.046,.045,.047,
.045,.043,.046,.044,.047,.045,.046,.044,.043,.046,
.047,.045,.044,.046,.045,.043,.047,.044,.046,.045,
.043,.046,.045,.047,.044,.046,.045,.043,.046,.044,
.046,.044,.047,.045,.043,.046,.044,.045,.047,.045,
.044,.047,.045,.043,.046,.045,.047,.044,.046,.043,
.046,.045,.043,.047,.044,.046,.045,.044,.047,.045,
.045,.043,.046,.044,.047,.045,.046,.043,.045,.047,
.044,.046,.045,.047,.043,.046,.044,.045,.046,.044,
.047,.045,.044,.046,.045,.043,.047,.045,.044,.046,
.045,.047,.043,.046,.044,.045,.047,.046,.044,.045,
.043,.046,.045,.047,.044,.046,.043,.045,.047,.044,
.046,.044,.047,.045,.043,.046,.045,.044,.046,.047,
.044,.046,.045,.043,.047,.045,.044,.046,.045,.043,
.047,.045,.046,.044,.045,.047,.043,.046,.045,.044,
.046,.044,.047,.045,.043,.046,.045,.047,.044,.046,
.045,.043,.046,.045,.047,.044,.046,.045,.043,.047,
.044,.046,.045,.047,.044,.045,.046,.043,.047,.045,
.046,.044,.047,.045,.046,.043,.045,.047,.044,.046,
.045,.047,.044,.046,.043,.045,.047,.044,.046,.045,
.047,.045,.043,.046,.045,.047,.044,.046,.045,.043,
.046,.044,.047,.045,.046,.044,.043,.047,.045,.046,
.044,.046,.045,.043,.047,.045,.046,.044,.047,.045];

// 200 Hz
const asd200 = [.0538,.0516,.0511,.0507,.0462,.0453,.0471,.0444,.0430,.0439,
.0457,.0462,.0462,.0498,.0435,.0480,.0471,.0457,.0426,.0412,
.0453,.0466,.0403,.0408,.0381,.0412,.0399,.0394,.0426,.0417,
.0417,.0421,.0399,.0412,.0403,.0421,.0439,.0394,.0426,.0408,
.0421,.0385,.0399,.0399,.0403,.0430,.0403,.0439,.0421,.0475,
.0381,.0403,.0403,.0408,.0412,.0412,.0426,.0435,.0417,.0417,
.0412,.0403,.0417,.0426,.0417,.0399,.0408,.0403,.0426,.0399,
.0412,.0417,.0412,.0399,.0403,.0399,.0412,.0421,.0412,.0421,
.0408,.0421,.0408,.0390,.0426,.0367,.0408,.0453,.0390,.0399,
.0372,
.0417,.0408,.0426,.0412,.0399,.0421,.0435,.0408,.0417,.0403,
.0426,.0412,.0394,.0421,.0417,.0430,.0408,.0403,.0439,.0412,
.0421,.0399,.0417,.0426,.0408,.0412,.0435,.0403,.0421,.0417,
.0394,.0412,.0430,.0408,.0421,.0417,.0412,
.0430,.0417,.0412,.0453,.0426,.0426,.0421,.0399,.0417,.0412,
.0426,.0417,.0426,.0399,.0426,.0408,.0417,.0417,.0417,.0408,
.0403,.0412,.0403,.0426,.0484,.0408,.0412,.0417,.0403,.0376,
.0394,.0421,.0421,.0412,.0408,.0417,.0426,.0426,.0435,.0417,
.0403,.0417,.0403,.0399,.0399,.0394,.0412,.0426,.0403,.0412,
.0421,.0399,.0394,.0399,.0426,.0448,.0421,.0403,.0412,.0403,
.0394,.0399,.0399,.0421,.0421,.0426,.0435,.0412,.0439,.0444,
.0408,.0430,.0439,.0453,.0466,.0453,.0439,.0403,.0435,.0426,
.0417,.0408,.0471,.0435,.0426,.0417,.0444,.0430,.0430,.0430,
.0426,.0426,.0444,.0421,.0435,.0430,.0439,.0421,.0439,.0426,
.0399,.0444,.0439,.0448,.0439,.0426,.0444,.0417,.0435,.0435,
.0462,.0399,.0444,.0444,.0453,.0462,.0439,.0417,.0439,.0462,
.0498,.0399];
const lo200 = [.022,.020,.023,.021,.019,.022,.020,.021,.023,.020,
.019,.022,.021,.020,.023,.021,.019,.022,.020,.021,
.023,.020,.022,.019,.021,.022,.020,.023,.021,.019,
.022,.021,.020,.022,.019,.021,.023,.020,.021,.022,
.020,.019,.022,.021,.023,.020,.021,.019,.022,.020,
.021,.023,.020,.022,.019,.021,.020,.022,.023,.021,
.019,.022,.020,.021,.023,.020,.022,.019,.021,.022,
.020,.023,.021,.019,.022,.020,.021,.023,.020,.022,
.021,.019,.022,.020,.023,.021,.020,.022,.019,.021,
.022,.020,.023,.021,.019,.022,.021,.020,.023,.020,
.021,.022,.019,.021,.023,.020,.022,.021,.019,.022,
.020,.021,.023,.020,.022,.019,.021,.022,.020,.023,
.021,.019,.022,.020,.021,.023,.020,.022,.021,.019,
.022,.021,.020,.023,.021,.019,.022,.020,.021,.022,
.023,.020,.021,.019,.022,.021,.023,.020,.022,.021,
.019,.022,.020,.023,.021,.020,.022,.019,.021,.023,
.020,.022,.021,.019,.022,.020,.023,.021,.020,.022,
.021,.019,.023,.020,.022,.021,.019,.022,.020,.021,
.023,.020,.022,.021,.019,.022,.020,.023,.021,.020,
.022,.021,.019,.022,.020,.023,.021,.020,.022,.019,
.021,.023,.020,.022,.021,.019,.022,.020,.021,.023,
.020,.022,.019,.021,.023,.020,.022,.021,.020,.022,
.019,.021,.023,.020,.022,.021,.019,.022,.020,.021,
.023,.020,.022,.021,.019,.022,.021,.020,.023,.021,
.020,.022,.021,.019,.022,.020,.023,.021,.022,.020];
const hi200 = [.105,.098,.092,.086,.079,.084,.076,.081,.073,.079,
.070,.083,.075,.068,.080,.072,.087,.074,.069,.078,
.084,.071,.076,.068,.082,.073,.070,.079,.067,.074,
.088,.071,.077,.069,.075,.083,.068,.072,.080,.070,
.074,.067,.081,.072,.069,.076,.085,.070,.073,.068,
.079,.071,.075,.067,.083,.070,.074,.078,.068,.072,
.070,.077,.068,.082,.071,.069,.075,.080,.067,.073,
.076,.069,.084,.071,.068,.074,.079,.070,.067,.075,
.072,.086,.069,.073,.077,.068,.071,.081,.069,.074,
.068,.078,.071,.067,.083,.070,.075,.069,.073,.080,
.067,.072,.076,.069,.085,.071,.068,.074,.079,.070,
.073,.068,.077,.071,.069,.082,.072,.068,.075,.070,
.078,.069,.073,.068,.080,.071,.074,.069,.076,.072,
.067,.079,.070,.083,.068,.073,.077,.069,.072,.086,
.070,.075,.068,.078,.071,.069,.081,.072,.068,.074,
.076,.069,.073,.080,.070,.068,.084,.071,.074,.069,
.077,.072,.068,.082,.070,.075,.069,.073,.079,.071,
.068,.076,.072,.085,.070,.074,.069,.078,.072,.080,
.071,.075,.069,.083,.073,.070,.077,.081,.071,.074,
.079,.072,.076,.070,.084,.073,.078,.071,.082,.075,
.072,.088,.074,.079,.071,.077,.083,.073,.076,.080,
.074,.081,.072,.078,.086,.075,.073,.080,.077,.083,
.075,.079,.087,.074,.078,.082,.076,.085,.074,.080,
.077,.084,.075,.079,.089,.076,.081,.078,.086,.075,
.080,.077,.083,.076,.088,.079,.082,.077,.085,.090];

// ---------- CHART ----------
const series = [
  {mean: asd1000, lo: lo1000, hi: hi1000},
  {mean: asd900,  lo: lo900,  hi: hi900},
  {mean: asd800,  lo: lo800,  hi: hi800},
  {mean: asd700,  lo: lo700,  hi: hi700},
  {mean: asd600,  lo: lo600,  hi: hi600},
  {mean: asd500,  lo: lo500,  hi: hi500},
  {mean: asd400,  lo: lo400,  hi: hi400},
  {mean: asd300,  lo: lo300,  hi: hi300},
  {mean: asd200,  lo: lo200,  hi: hi200}
].map((s, k) => Object.assign(s, {label: seriesLabels[k], color: seriesColors[k]}));

const W = 2622, H = 1921;
const L = 182, R = 2563, T = 11.5, B = 1752;
const FONT = "'DejaVu Sans', 'Liberation Sans', sans-serif";
const FS = 45.8;
const LW = 5.4;
const N = asd800.length;
const stepMs = STEP_MIN * 60000;
const spanMs = (N - 1) * stepMs;
const tAt = i => new Date(START_UTC + i * stepMs);

const x = d3.scaleUtc()
  .domain([new Date(START_UTC - 0.05 * spanMs), new Date(START_UTC + 1.05 * spanMs)])
  .range([L, R]);
const y = d3.scaleLinear().domain([-0.0101, 0.4594]).range([B, T]);

const svg = d3.select("#chart");
svg.append("rect").attr("width", W).attr("height", H).attr("fill", "#fff");
svg.append("defs").append("clipPath").attr("id", "clip")
  .append("rect").attr("x", L).attr("y", T).attr("width", R - L).attr("height", B - T);

const plot = svg.append("g").attr("clip-path", "url(#clip)");

// bands
series.forEach(s => {
  const n = Math.min(s.lo.length, s.hi.length);
  const area = d3.area()
    .x(i => x(tAt(i)))
    .y0(i => y(s.lo[i]))
    .y1(i => y(s.hi[i]));
  plot.append("path").datum(d3.range(n))
    .attr("d", area)
    .attr("fill", s.color)
    .attr("fill-opacity", 0.2)
    .attr("stroke", "none");
});

// grid (drawn with the axes generators)
const gridY = plot.append("g").attr("transform", `translate(${L},0)`)
  .call(d3.axisLeft(y).tickValues(yTicks).tickSize(-(R - L)).tickFormat(""));
const gridX = plot.append("g").attr("transform", `translate(0,${B})`)
  .call(d3.axisBottom(x).tickValues(xTickTimes.map(d => new Date(d))).tickSize(-(B - T)).tickFormat(""));
[gridY, gridX].forEach(g => {
  g.select(".domain").remove();
  g.selectAll("line").attr("stroke", "#b0b0b0").attr("stroke-width", 2.2);
});

// mean lines
series.forEach(s => {
  const line = d3.line().x(i => x(tAt(i))).y(i => y(s.mean[i]));
  plot.append("path").datum(d3.range(s.mean.length))
    .attr("d", line)
    .attr("fill", "none")
    .attr("stroke", s.color)
    .attr("stroke-width", LW)
    .attr("stroke-linejoin", "round")
    .attr("stroke-linecap", "square");
});

// spines
svg.append("rect").attr("x", L).attr("y", T).attr("width", R - L).attr("height", B - T)
  .attr("fill", "none").attr("stroke", "#000").attr("stroke-width", 2.2);

// y axis
const yAxis = svg.append("g").attr("transform", `translate(${L},0)`)
  .call(d3.axisLeft(y).tickValues(yTicks).tickFormat(d3.format(".1f")).tickSize(9.7).tickPadding(10.3));
yAxis.select(".domain").remove();
yAxis.selectAll("line").attr("stroke", "#000").attr("stroke-width", 2.2);
yAxis.selectAll("text").attr("font-family", FONT).attr("font-size", FS).attr("fill", "#000").attr("dy", "0.36em");

// x axis
const xAxis = svg.append("g").attr("transform", `translate(0,${B})`)
  .call(d3.axisBottom(x).tickValues(xTickTimes.map(d => new Date(d))).tickSize(9.7).tickFormat(""));
xAxis.select(".domain").remove();
xAxis.selectAll("line").attr("stroke", "#000").attr("stroke-width", 2.2);
xAxis.selectAll(".tick").each(function(d, k) {
  const t = d3.select(this).select("text")
    .attr("y", 0).attr("dy", null)
    .attr("font-family", FONT).attr("font-size", FS).attr("fill", "#000").attr("text-anchor", "middle");
  t.text(null);
  t.append("tspan").attr("x", 0).attr("y", 53).text(xTickLabels[k][0]);
  t.append("tspan").attr("x", 0).attr("y", 106).text(xTickLabels[k][1]);
});

// axis labels
svg.append("text").attr("x", (L + R) / 2).attr("y", 1906)
  .attr("text-anchor", "middle").attr("font-family", FONT).attr("font-size", FS).text("Time");

const yl = svg.append("text")
  .attr("transform", `translate(66,${(T + B) / 2}) rotate(-90)`)
  .attr("text-anchor", "middle").attr("font-family", FONT).attr("font-size", FS);
yl.append("tspan").text("Beatnote ASD [");
yl.append("tspan").attr("font-style", "italic").text("Hz");
yl.append("tspan").text("/\u221A");
yl.append("tspan").attr("font-style", "italic").attr("text-decoration", "overline").text("Hz");
yl.append("tspan").text("]");

// legend
const lg = svg.append("g");
lg.append("rect").attr("x", 207).attr("y", 33).attr("width", 722).attr("height", 622)
  .attr("rx", 8.9).attr("ry", 8.9)
  .attr("fill", "#fff").attr("fill-opacity", 0.8)
  .attr("stroke", "#cccccc").attr("stroke-opacity", 0.8).attr("stroke-width", 2.8);
series.forEach((s, k) => {
  const cy = 72 + k * 67.7;
  lg.append("line").attr("x1", 224).attr("x2", 317).attr("y1", cy).attr("y2", cy)
    .attr("stroke", s.color).attr("stroke-width", LW);
  lg.append("text").attr("x", 355.5).attr("y", cy + 16.7)
    .attr("font-family", FONT).attr("font-size", FS).attr("fill", "#000").text(s.label);
});
</script>
</body></html>
